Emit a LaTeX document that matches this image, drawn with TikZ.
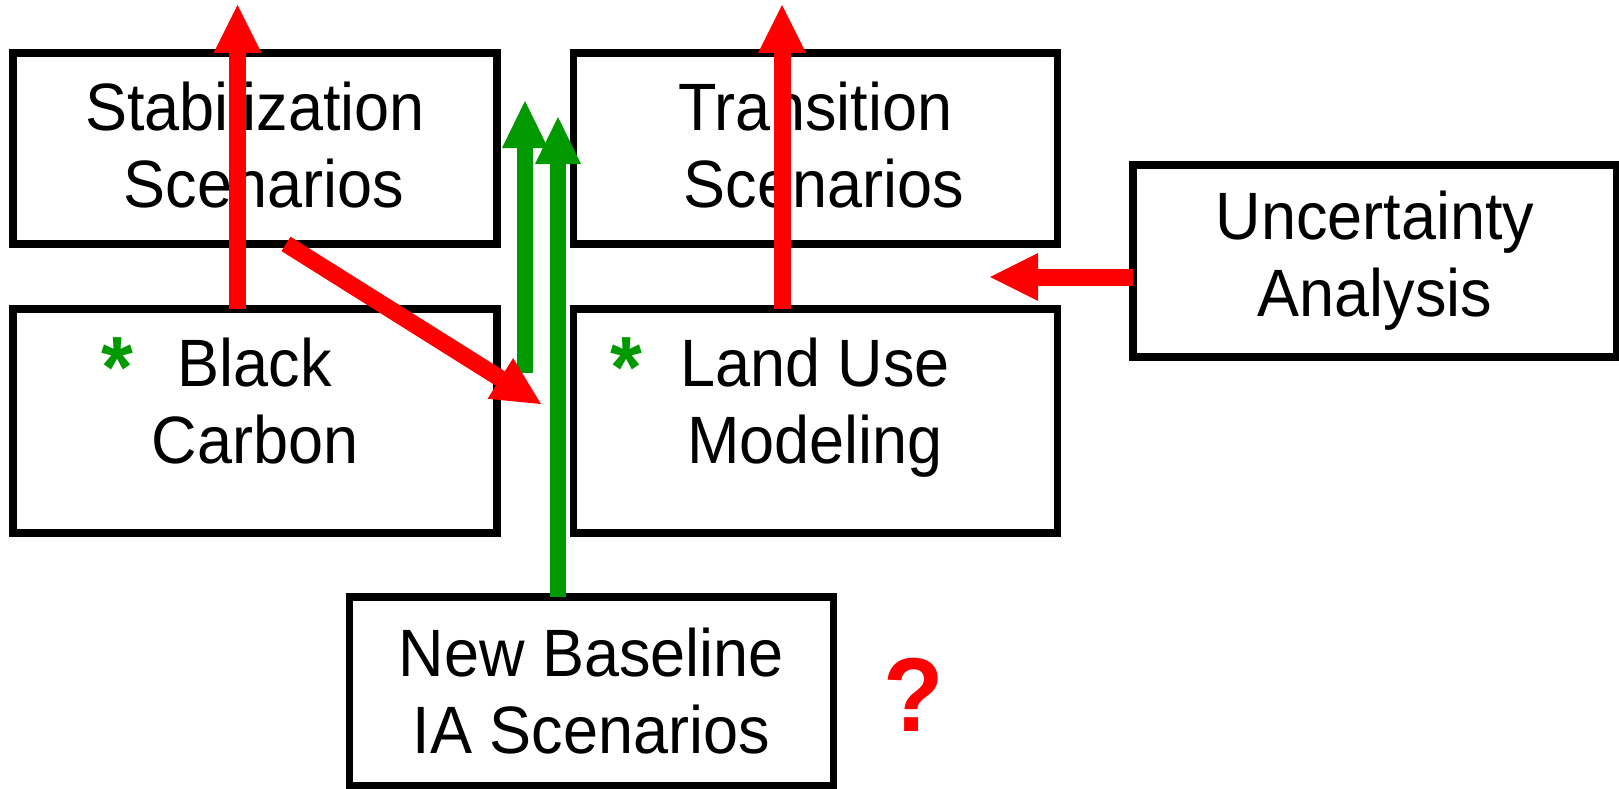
\documentclass[tikz,border=0pt]{standalone}
\usepackage{fontspec}
\setmainfont{Liberation Sans}[FakeStretch=0.94]
\usetikzlibrary{arrows.meta}
\definecolor{arrred}{RGB}{255,0,0}
\definecolor{arrgreen}{RGB}{0,153,0}
\begin{document}
\begin{tikzpicture}[x=1pt,y=-1pt,
  box/.style={draw=black, line width=7.5pt, inner sep=0pt, outer sep=0pt,
    minimum width=484pt, align=center, font=\fontsize{67}{77}\selectfont},
  boxtext/.style={inner sep=0pt, align=center, font=\fontsize{67}{77}\selectfont},
  redarr/.style={draw=arrred, line width=17pt,
    -{Triangle[width=48pt,length=48pt,line width=0pt]}},
  greenarr/.style={draw=arrgreen, line width=16pt,
    -{Triangle[width=46pt,length=47pt,line width=0pt]}},
  star/.style={inner sep=0pt, text=arrgreen, font=\fontsize{87}{87}\selectfont\bfseries},
  qmark/.style={inner sep=0pt, text=arrred, font=\fontsize{105}{105}\selectfont\bfseries}
]
\useasboundingbox (0,0) rectangle (1619,789);

% boxes
\node[box, minimum height=191pt] (stab) at (254.9,148.4)
  {Stabilization\\\hspace*{17.5pt}Scenarios\rule[-8pt]{0pt}{0pt}};
\node[box, minimum height=191pt] (trans) at (815.25,148.4)
  {Transition\\\hspace*{17.5pt}Scenarios\rule[-8pt]{0pt}{0pt}};
\node[box, minimum height=192pt] (ua) at (1375,261) {Uncertainty\\Analysis};
\node[box, minimum height=224pt] (bc) at (254.9,421) {};
\node[box, minimum height=224pt] (lu) at (815.25,421) {};
\node[box, minimum height=189pt] (nb) at (591.25,691.5) {New Baseline\\IA Scenarios};

% texts of the middle boxes
\node[boxtext] (bctext) at (254.9,401) {Black\\Carbon};
\node[boxtext] (lutext) at (815.25,408) {Land Use\\Modeling};
\node[star] (bcstar) at (117,368) {*};
\node[star] (lustar) at (626,368) {*};
\node[qmark] (q) at (914,695) {?};

% coordinates of free ends
\coordinate (t1) at (237.5,5);
\coordinate (t2) at (782,5);
\coordinate (d0) at (286,0);
\coordinate (t3) at (541,404);
\coordinate (t4) at (990,277);
\coordinate (g1a) at (525,373);
\coordinate (g1b) at (525,101);
\coordinate (t6) at (558,117);

% green arrows
\draw[greenarr] (g1a) -- (g1b);
\draw[greenarr] (nb.north -| t6) -- (t6);

% red arrows
\draw[redarr] (bc.north -| t1) -- (t1);
\draw[redarr] (lu.north -| t2) -- (t2);
\draw[redarr] (stab.south -| d0) -- (t3);
\draw[redarr] (ua.west |- t4) -- (t4);
\end{tikzpicture}
\end{document}
